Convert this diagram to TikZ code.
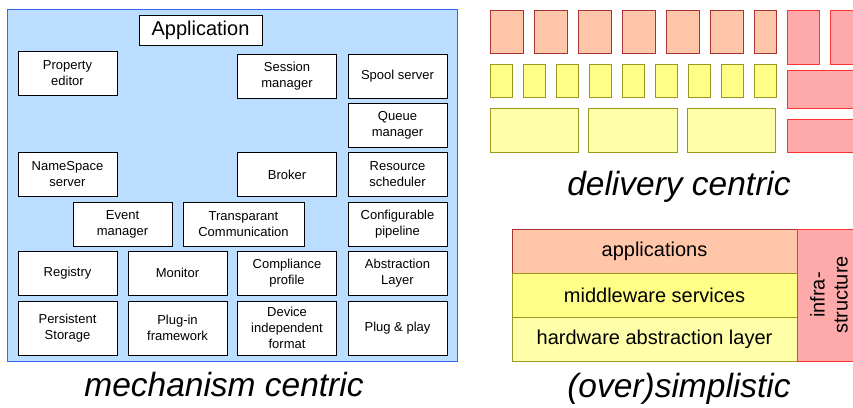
\documentclass[tikz,border=0pt]{standalone}
\usepackage{fontspec}
\setmainfont{Liberation Sans}
\usepackage{tikz}
\usetikzlibrary{positioning}
\definecolor{panelblue}{HTML}{BBDDFF}
\definecolor{panelline}{HTML}{3366EE}
\definecolor{appfill}{HTML}{FFC6AA}
\definecolor{appline}{HTML}{AA3333}
\definecolor{midfill}{HTML}{FFFF88}
\definecolor{hwfill}{HTML}{FFFFAA}
\definecolor{yelline}{HTML}{999922}
\definecolor{infrafill}{HTML}{FFAAAA}
\definecolor{infraline}{HTML}{FF3333}
\tikzset{
        mbox/.style={draw, fill=white, line width=0.9pt, align=center, inner sep=0pt,
            minimum width=99pt, minimum height=44pt, font=\fontsize{13}{16}\selectfont},
        caption/.style={anchor=base, font=\fontsize{33.5}{38}\selectfont\itshape},
        layer/.style={draw, line width=0.9pt, inner sep=0pt, minimum width=285pt,
            minimum height=44pt, font=\fontsize{20}{24}\selectfont}
}

\begin{document}
\begin{tikzpicture}[x=1pt, y=-1pt]
        \useasboundingbox (0,0) rectangle (853,407);
        \clip (0,0) rectangle (853,407);
        \fill[white] (0,0) rectangle (853,407);
        \draw[fill=panelblue, draw=panelline, line width=0.9pt] (7,9) rectangle (457,361);
        \node[mbox, minimum width=123pt, minimum height=30pt, font=\fontsize{20}{24}\selectfont] (app) at (200.5,30) {Application};
        \node[mbox] (prop) at (67.5,73.5) {Property\\editor};
        \node[mbox] (sess) at (287,76) {Session\\manager};
        \node[mbox] (spool) at (397.5,76) {Spool server};
        \node[mbox] (queue) at (397.5,125) {Queue\\manager};
        \node[mbox] (names) at (67.5,174.5) {NameSpace\\server};
        \node[mbox] (broker) at (287,174.5) {Broker};
        \node[mbox] (resched) at (397.5,174.5) {Resource\\scheduler};
        \node[mbox] (event) at (122.5,224) {Event\\manager};
        \node[mbox, minimum width=121pt] (transp) at (243.5,224) {Transparant\\Communication};
        \node[mbox] (pipe) at (397.5,224) {Configurable\\pipeline};
        \node[mbox] (registry) at (67.5,273) {Registry};
        \node[mbox] (monitor) at (177.5,273) {Monitor};
        \node[mbox] (compl) at (287,273) {Compliance\\profile};
        \node[mbox] (abstr) at (397.5,273) {Abstraction\\Layer};
        \node[mbox, minimum height=54pt] (persist) at (67.5,328) {Persistent\\Storage};
        \node[mbox, minimum height=54pt] (plugin) at (177.5,328) {Plug-in\\framework};
        \node[mbox, minimum height=54pt] (devind) at (287,328) {Device\\independent\\format};
        \node[mbox, minimum height=54pt] (plugplay) at (397.5,328) {Plug \& play};
        \node[caption] (mech) at (224,396) {mechanism centric};
        \foreach \i in {0,1,...,5}
        {
            \draw[fill=appfill, draw=appline, line width=0.9pt] (490+44*\i,10) rectangle ++(33,43);
        }
        \draw[fill=appfill, draw=appline, line width=0.9pt] (754,10) rectangle (776,53);
        \foreach \i in {0,1,...,8}
        {
            \draw[fill=midfill, draw=yelline, line width=0.9pt] (490+33*\i,64) rectangle ++(22,33);
        }
        \foreach \i in {0,1,2}
        {
            \draw[fill=hwfill, draw=yelline, line width=0.9pt] (490+98.5*\i,108) rectangle ++(88.5,44);
        }
        \draw[fill=infrafill, draw=infraline, line width=0.9pt] (787,10) rectangle (819,64);
        \draw[fill=infrafill, draw=infraline, line width=0.9pt] (830,10) rectangle (875,64);
        \draw[fill=infrafill, draw=infraline, line width=0.9pt] (787,70) rectangle (875,108);
        \draw[fill=infrafill, draw=infraline, line width=0.9pt] (787,119) rectangle (875,152);
        \node[caption] (deliv) at (679,195) {delivery centric};
        \node[layer, fill=appfill, draw=appline] (apps) at (654.5,251) {applications};
        \node[layer, fill=midfill, draw=yelline] (midw) at (654.5,295) {middleware services};
        \node[layer, fill=hwfill, draw=yelline] (hwal) at (654.5,339) {hardware abstraction layer\hspace{8pt}};
        \node[draw=infraline, fill=infrafill, line width=0.9pt, minimum width=132pt, minimum height=64pt,
            inner sep=0pt, rotate=90, align=center, font=\fontsize{20}{23}\selectfont] (infra) at (829,295) {infra-\\structure};
        \node[caption] (simpl) at (679,397) {(over)simplistic};
\end{tikzpicture}
\end{document}
